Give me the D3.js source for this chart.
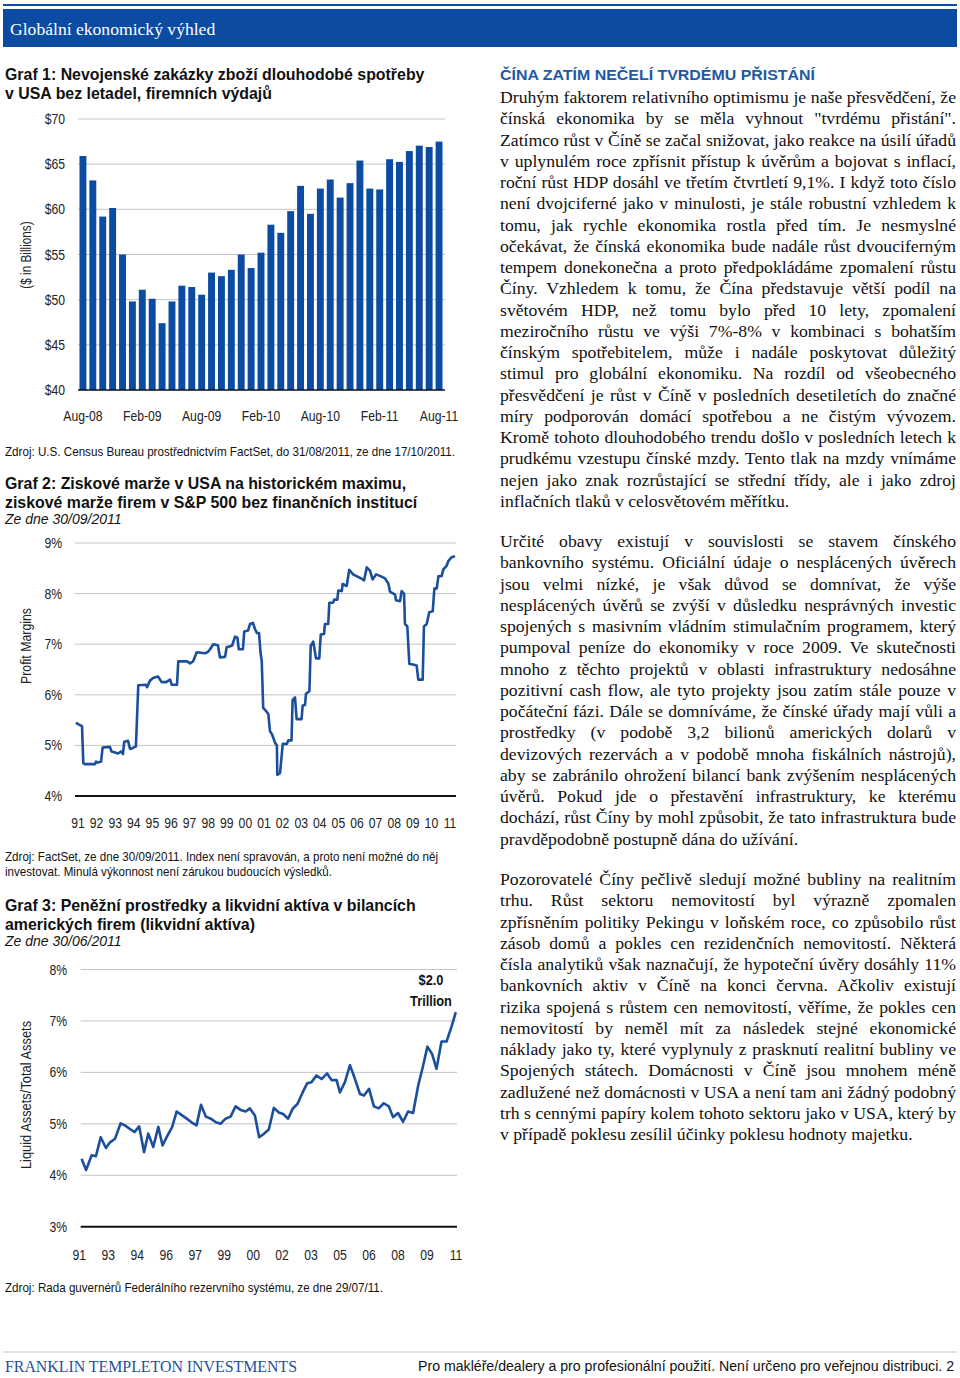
<!DOCTYPE html>
<html><head><meta charset="utf-8">
<script src="https://cdn.jsdelivr.net/npm/d3@7"></script>
<style>
html,body{margin:0;padding:0;background:#fff;}
svg{display:block;}
</style></head>
<body>
<svg id="page" width="960" height="1378"></svg>
<script>
// ---------- DATA ----------
const orderMonths = ["Aug-08","Sep-08","Oct-08","Nov-08","Dec-08","Jan-09","Feb-09","Mar-09","Apr-09","May-09","Jun-09","Jul-09","Aug-09","Sep-09","Oct-09","Nov-09","Dec-09","Jan-10","Feb-10","Mar-10","Apr-10","May-10","Jun-10","Jul-10","Aug-10","Sep-10","Oct-10","Nov-10","Dec-10","Jan-11","Feb-11","Mar-11","Apr-11","May-11","Jun-11","Jul-11","Aug-11"];
const orderValues = [65.9,63.2,59.2,60.15,55.0,49.8,51.1,50.1,47.4,49.8,51.55,51.4,50.55,53.0,52.6,53.3,55.0,53.5,55.2,58.3,57.4,59.8,62.6,59.5,62.3,63.3,61.3,62.9,65.4,62.3,62.2,65.55,65.25,66.45,67.05,66.9,67.5];
const orderTicks = [40,45,50,55,60,65,70];
const orderTickLabels = ["$40","$45","$50","$55","$60","$65","$70"];
const orderXLabels = ["Aug-08","Feb-09","Aug-09","Feb-10","Aug-10","Feb-11","Aug-11"];

const marginYears = [1991.00,1991.16,1991.33,1991.40,1991.49,1992.04,1992.10,1992.20,1992.37,1992.46,1992.86,1992.94,1993.14,1993.30,1993.46,1993.57,1993.64,1993.85,1993.96,1994.12,1994.28,1994.41,1994.83,1994.89,1995.05,1995.22,1995.49,1995.69,1995.93,1996.15,1996.24,1996.53,1996.60,1997.08,1997.24,1997.41,1997.61,1998.06,1998.23,1998.34,1998.52,1998.77,1998.88,1999.16,1999.25,1999.54,1999.71,1999.84,1999.91,2000.14,2000.21,2000.42,2000.53,2000.69,2000.80,2000.91,2001.02,2001.10,2001.17,2001.25,2001.40,2001.53,2001.62,2001.73,2001.80,2001.90,2002.00,2002.02,2002.17,2002.32,2002.55,2002.62,2002.80,2002.86,2002.99,2003.08,2003.35,2003.41,2003.54,2003.59,2003.78,2003.85,2003.99,2004.14,2004.32,2004.40,2004.58,2004.63,2004.81,2004.87,2005.07,2005.14,2005.31,2005.36,2005.55,2005.60,2005.82,2005.96,2006.17,2006.44,2006.71,2006.77,2006.92,2007.10,2007.24,2007.43,2007.64,2007.92,2008.10,2008.19,2008.47,2008.52,2008.74,2008.83,2008.96,2009.01,2009.14,2009.25,2009.45,2009.65,2009.74,2009.98,2010.05,2010.20,2010.34,2010.53,2010.62,2010.75,2010.84,2011.02,2011.11,2011.29,2011.38,2011.57,2011.75];
const marginValues = [5.45,5.41,5.38,4.65,4.63,4.63,4.68,4.66,4.68,4.96,4.97,4.88,4.86,4.84,4.88,4.83,5.07,5.09,4.93,4.95,4.98,6.19,6.20,6.15,6.28,6.33,6.36,6.25,6.25,6.30,6.20,6.20,6.66,6.66,6.62,6.66,6.84,6.82,6.85,6.90,7.00,6.98,6.74,6.75,6.94,6.97,7.15,7.13,6.90,6.90,7.25,7.27,7.40,7.42,7.30,7.22,7.22,6.85,6.66,5.74,5.68,5.62,5.28,5.22,5.15,5.05,5.00,4.42,4.45,5.03,5.03,5.10,5.10,5.90,5.95,5.52,5.52,5.79,5.80,6.02,6.07,6.97,7.05,6.72,6.72,7.19,7.20,7.40,7.40,7.82,7.82,7.88,7.88,8.06,8.05,8.19,8.15,8.47,8.38,8.33,8.28,8.26,8.52,8.45,8.28,8.38,8.35,8.30,8.20,8.04,7.98,7.87,7.85,8.05,8.00,7.40,7.35,6.61,6.60,6.58,6.30,6.30,7.35,7.40,7.63,7.65,8.10,8.10,8.34,8.35,8.48,8.55,8.64,8.72,8.74];
const marginTicks = [4,5,6,7,8,9];
const marginTickLabels = ["4%","5%","6%","7%","8%","9%"];
const marginXLabels = ["91","92","93","94","95","96","97","98","99","00","01","02","03","04","05","06","07","08","09","10","11"];

const liquidYears = [1991.12,1991.35,1991.64,1991.86,1992.11,1992.38,1992.59,1992.85,1993.14,1993.36,1993.62,1993.85,1994.10,1994.35,1994.57,1994.83,1995.09,1995.31,1995.55,1995.81,1996.04,1996.30,1996.56,1996.81,1997.07,1997.30,1997.55,1997.81,1998.07,1998.31,1998.57,1998.83,1999.09,1999.35,1999.61,1999.83,2000.09,2000.31,2000.57,2000.81,2001.07,2001.33,2001.55,2001.81,2002.04,2002.30,2002.56,2002.80,2003.02,2003.28,2003.54,2003.83,2004.06,2004.32,2004.49,2004.75,2005.01,2005.27,2005.53,2005.74,2006.00,2006.25,2006.50,2006.76,2007.02,2007.24,2007.50,2007.76,2008.02,2008.28,2008.54,2008.76,2009.02,2009.26,2009.49,2009.75,2010.01,2010.27,2010.49];
const liquidValues = [4.32,4.10,4.39,4.37,4.74,4.53,4.64,4.71,5.01,4.97,4.90,4.84,4.95,4.45,4.81,4.55,4.94,4.58,4.76,4.94,5.24,5.17,5.10,5.03,4.97,5.37,5.14,5.10,5.03,5.00,5.10,5.14,5.34,5.27,5.24,5.30,5.16,4.74,4.81,4.89,5.31,5.22,5.19,5.10,5.29,5.39,5.61,5.79,5.81,5.94,5.87,5.98,5.85,5.85,5.61,5.81,6.14,5.87,5.58,5.55,5.68,5.34,5.30,5.40,5.34,5.13,5.21,5.04,5.24,5.21,5.74,6.07,6.50,6.36,6.07,6.60,6.60,6.89,7.17];
const liquidTicks = [3,4,5,6,7,8];
const liquidTickLabels = ["3%","4%","5%","6%","7%","8%"];
const liquidXLabels = ["91","93","94","96","97","99","00","02","03","05","06","08","09","11"];

// ---------- TEXT ----------
const para1 = [
"Druhým faktorem relativního optimismu je naše přesvědčení, že",
"čínská ekonomika by se měla vyhnout \"tvrdému přistání\".",
"Zatímco růst v Číně se začal snižovat, jako reakce na úsilí úřadů",
"v uplynulém roce zpřísnit přístup k úvěrům a bojovat s inflací,",
"roční růst HDP dosáhl ve třetím čtvrtletí 9,1%. I když toto číslo",
"není dvojciferné jako v minulosti, je stále robustní vzhledem k",
"tomu, jak rychle ekonomika rostla před tím. Je nesmyslné",
"očekávat, že čínská ekonomika bude nadále růst dvouciferným",
"tempem donekonečna a proto předpokládáme zpomalení růstu",
"Číny. Vzhledem k tomu, že Čína představuje větší podíl na",
"světovém HDP, než tomu bylo před 10 lety, zpomalení",
"meziročního růstu ve výši 7%-8% v kombinaci s bohatším",
"čínským spotřebitelem, může i nadále poskytovat důležitý",
"stimul pro globální ekonomiku. Na rozdíl od všeobecného",
"přesvědčení je růst v Číně v posledních desetiletích do značné",
"míry podporován domácí spotřebou a ne čistým vývozem.",
"Kromě tohoto dlouhodobého trendu došlo v posledních letech k",
"prudkému vzestupu čínské mzdy. Tento tlak na mzdy vnímáme",
"nejen jako znak rozrůstající se střední třídy, ale i jako zdroj",
"inflačních tlaků v celosvětovém měřítku."];
const para2 = [
"Určité obavy existují v souvislosti se stavem čínského",
"bankovního systému. Oficiální údaje o nesplácených úvěrech",
"jsou velmi nízké, je však důvod se domnívat, že výše",
"nesplácených úvěrů se zvýší v důsledku nesprávných investic",
"spojených s masivním vládním stimulačním programem, který",
"pumpoval peníze do ekonomiky v roce 2009. Ve skutečnosti",
"mnoho z těchto projektů v oblasti infrastruktury nedosáhne",
"pozitivní cash flow, ale tyto projekty jsou zatím stále pouze v",
"počáteční fázi. Dále se domníváme, že čínské úřady mají vůli a",
"prostředky (v podobě 3,2 bilionů amerických dolarů v",
"devizových rezervách a v podobě mnoha fiskálních nástrojů),",
"aby se zabránilo ohrožení bilancí bank zvýšením nesplácených",
"úvěrů. Pokud jde o přestavění infrastruktury, ke kterému",
"dochází, růst Číny by mohl způsobit, že tato infrastruktura bude",
"pravděpodobně postupně dána do užívání."];
const para3 = [
"Pozorovatelé Číny pečlivě sledují možné bubliny na realitním",
"trhu. Růst sektoru nemovitostí byl výrazně zpomalen",
"zpřísněním politiky Pekingu v loňském roce, co způsobilo růst",
"zásob domů a pokles cen rezidenčních nemovitostí. Některá",
"čísla analytiků však naznačují, že hypoteční úvěry dosáhly 11%",
"bankovních aktiv v Číně na konci června. Ačkoliv existují",
"rizika spojená s růstem cen nemovitostí, věříme, že pokles cen",
"nemovitostí by neměl mít za následek stejné ekonomické",
"náklady jako ty, které vyplynuly z prasknutí realitní bubliny ve",
"Spojených státech. Domácnosti v Číně jsou mnohem méně",
"zadlužené než domácnosti v USA a není tam ani žádný podobný",
"trh s cennými papíry kolem tohoto sektoru jako v USA, který by",
"v případě poklesu zesílil účinky poklesu hodnoty majetku."];

// ---------- STYLE ----------
const BLUE = "#0b4ca2";
const LINEBLUE = "#1b4f9c";
const SANS = "'Liberation Sans',Arial,sans-serif";
const SERIF = "'Liberation Serif','Times New Roman',serif";

const svg = d3.select("#page");

// squeeze Arial horizontally to imitate the narrow face of the original
function narrow(sel, f){
  sel.each(function(){
    const w = this.getComputedTextLength();
    this.setAttribute("textLength", (w*(f||0.84)).toFixed(2));
    this.setAttribute("lengthAdjust","spacingAndGlyphs");
  });
  return sel;
}
function fitTo(sel, w){
  sel.attr("textLength",w).attr("lengthAdjust","spacingAndGlyphs");
  return sel;
}

// header
svg.append("rect").attr("x",3).attr("y",4).attr("width",954).attr("height",2).attr("fill",BLUE);
svg.append("rect").attr("x",3).attr("y",9).attr("width",954).attr("height",38).attr("fill",BLUE);
svg.append("text").attr("x",10).attr("y",35).attr("fill","#fff")
  .style("font-family",SERIF).style("font-size","17.6px").text("Globální ekonomický výhled");

function title(lines, y0, sub){
  lines.forEach((t,i)=>svg.append("text").attr("x",5).attr("y",y0+i*19)
    .style("font-family",SANS).style("font-weight","bold").style("font-size","15.9px").attr("fill","#111").text(t));
  if(sub) svg.append("text").attr("x",5).attr("y",y0+lines.length*19-3)
    .style("font-family",SANS).style("font-style","italic").style("font-size","14px").attr("fill","#111").text(sub);
}
function note(lines, y0, widths){
  lines.forEach((t,i)=>{
    const el = svg.append("text").attr("x",5).attr("y",y0+i*14.5)
      .style("font-family",SANS).style("font-size","13.5px").attr("fill","#111").text(t);
    fitTo(el, widths[i]);
  });
}
function yLabel(t,x,y,f){
  narrow(svg.append("text").attr("transform",`translate(${x},${y}) rotate(-90)`).attr("text-anchor","middle")
    .style("font-family",SANS).style("font-size","14px").attr("fill","#222").text(t), f||0.84);
}
const tickFont = sel => sel.style("font-family",SANS).style("font-size","14.5px").attr("fill","#222");

// ---------- CHART 1 ----------
title(["Graf 1: Nevojenské zakázky zboží dlouhodobé spotřeby","v USA bez letadel, firemních výdajů"],80);
{
  const x = d3.scaleBand().domain(orderMonths).range([78,444]).paddingInner(0.3).paddingOuter(0.15);
  const y = d3.scaleLinear().domain([40,70]).range([390,119]);
  const g = svg.append("g");
  g.selectAll("line.grid").data(orderTicks.slice(1)).join("line")
    .attr("x1",78).attr("x2",445).attr("y1",d=>y(d)).attr("y2",d=>y(d)).attr("stroke","#c4c4c4").attr("stroke-width",1);
  g.selectAll("rect").data(orderValues).join("rect")
    .attr("x",(d,i)=>x(orderMonths[i])).attr("width",x.bandwidth())
    .attr("y",d=>y(d)).attr("height",d=>y(40)-y(d)).attr("fill",BLUE);
  g.append("line").attr("x1",78).attr("x2",445).attr("y1",y(40)).attr("y2",y(40)).attr("stroke","#111").attr("stroke-width",1.5);
  narrow(g.selectAll("text.yt").data(orderTicks).join("text").attr("x",65).attr("y",d=>y(d)).attr("dy","0.35em")
    .attr("text-anchor","end").call(tickFont).text((d,i)=>orderTickLabels[i]));
  narrow(g.selectAll("text.xt").data(orderXLabels).join("text").attr("x",d=>x(d)+x.bandwidth()/2).attr("y",421)
    .attr("text-anchor","middle").call(tickFont).text(d=>d));
  yLabel("($ in Billions)",31,255);
}
note(["Zdroj: U.S. Census Bureau prostřednictvím FactSet, do 31/08/2011, ze dne 17/10/2011."],456,[450]);

// ---------- CHART 2 ----------
title(["Graf 2: Ziskové marže v USA na historickém maximu,","ziskové marže firem v S&P 500 bez finančních institucí"],489,"Ze dne 30/09/2011");
{
  const x = d3.scaleLinear().domain([1991,2011.75]).range([76,455]);
  const xl = d3.scalePoint().domain(marginXLabels).range([78,450]);
  const y = d3.scaleLinear().domain([4,9]).range([796,543]);
  const g = svg.append("g");
  g.selectAll("line.grid").data(marginTicks.slice(1)).join("line")
    .attr("x1",75).attr("x2",456).attr("y1",d=>y(d)).attr("y2",d=>y(d)).attr("stroke","#c4c4c4");
  g.append("line").attr("x1",75).attr("x2",456).attr("y1",y(4)).attr("y2",y(4)).attr("stroke","#111").attr("stroke-width",2);
  const line = d3.line().x((d,i)=>x(marginYears[i])).y(d=>y(d));
  g.append("path").attr("d",line(marginValues)).attr("fill","none").attr("stroke",LINEBLUE)
    .attr("stroke-width",2.6).attr("stroke-linejoin","round");
  narrow(g.selectAll("text.yt").data(marginTicks).join("text").attr("x",62).attr("y",d=>y(d)).attr("dy","0.35em")
    .attr("text-anchor","end").call(tickFont).text((d,i)=>marginTickLabels[i]));
  narrow(g.selectAll("text.xt").data(marginXLabels).join("text").attr("x",d=>xl(d)).attr("y",828)
    .attr("text-anchor","middle").call(tickFont).text(d=>d));
  yLabel("Profit Margins",31,646,0.88);
}
note(["Zdroj: FactSet, ze dne 30/09/2011. Index není spravován, a proto není možné do něj","investovat. Minulá výkonnost není zárukou budoucích výsledků."],861,[433,327]);

// ---------- CHART 3 ----------
title(["Graf 3: Peněžní prostředky a likvidní aktíva v bilancích","amerických firem (likvidní aktíva)"],911,"Ze dne 30/06/2011");
{
  const x = d3.scaleLinear().domain([1991,2010.5]).range([79.3,456]);
  const xl = d3.scalePoint().domain(liquidXLabels).range([79.3,456]);
  const y = d3.scaleLinear().domain([3,8]).range([1226.7,969.5]);
  const g = svg.append("g");
  g.selectAll("line.grid").data(liquidTicks.slice(1)).join("line")
    .attr("x1",80.7).attr("x2",457).attr("y1",d=>y(d)).attr("y2",d=>y(d)).attr("stroke","#c4c4c4");
  g.append("line").attr("x1",80.7).attr("x2",457).attr("y1",y(3)).attr("y2",y(3)).attr("stroke","#111").attr("stroke-width",2);
  const line = d3.line().x((d,i)=>x(liquidYears[i])).y(d=>y(d));
  g.append("path").attr("d",line(liquidValues)).attr("fill","none").attr("stroke",LINEBLUE)
    .attr("stroke-width",2.6).attr("stroke-linejoin","round");
  narrow(g.selectAll("text.yt").data(liquidTicks).join("text").attr("x",67).attr("y",d=>y(d)).attr("dy","0.35em")
    .attr("text-anchor","end").call(tickFont).text((d,i)=>liquidTickLabels[i]));
  narrow(g.selectAll("text.xt").data(liquidXLabels).join("text").attr("x",d=>xl(d)).attr("y",1260)
    .attr("text-anchor","middle").call(tickFont).text(d=>d));
  yLabel("Liquid Assets/Total Assets",31,1095,0.92);
  narrow(g.append("text").attr("x",431).attr("y",985).attr("text-anchor","middle").style("font-family",SANS)
    .style("font-weight","bold").style("font-size","14.5px").attr("fill","#111").text("$2.0"),0.88);
  narrow(g.append("text").attr("x",431).attr("y",1006).attr("text-anchor","middle").style("font-family",SANS)
    .style("font-weight","bold").style("font-size","14.5px").attr("fill","#111").text("Trillion"),0.88);
}
note(["Zdroj: Rada guvernérů Federálního rezervního systému, ze dne 29/07/11."],1292,[378]);

// ---------- RIGHT COLUMN ----------
fitTo(svg.append("text").attr("x",500).attr("y",80).style("font-family",SANS).style("font-weight","bold")
  .style("font-size","15px").attr("fill","#2159a6").text("ČÍNA ZATÍM NEČELÍ TVRDÉMU PŘISTÁNÍ"),315);
const COLX = 500, COLW = 456, LH = 21.25;
function para(lines, y0){
  lines.forEach((t,i)=>{
    const el = svg.append("text").attr("x",COLX).attr("y",y0+i*LH)
      .style("font-family",SERIF).style("font-size","17.7px").attr("fill","#111").text(t);
    if(i<lines.length-1){
      const n = (t.match(/ /g)||[]).length;
      const w = el.node().getComputedTextLength();
      if(n>0) el.style("word-spacing",((COLW-w)/n)+"px");
    }
  });
}
para(para1,103);
para(para2,547);
para(para3,885);

// ---------- FOOTER ----------
svg.append("line").attr("x1",3).attr("x2",957).attr("y1",1352).attr("y2",1352).attr("stroke","#c8c8c8").attr("stroke-width",1);
fitTo(svg.append("text").attr("x",5).attr("y",1372).style("font-family",SERIF).style("font-size","16px")
  .attr("fill","#1f4fa0").text("FRANKLIN TEMPLETON INVESTMENTS"),292);
fitTo(svg.append("text").attr("x",418).attr("y",1371).style("font-family",SANS)
  .style("font-size","14px").attr("fill","#111").text("Pro makléře/dealery a pro profesionální použití. Není určeno pro veřejnou distribuci. 2"),536);
</script>
</body></html>
